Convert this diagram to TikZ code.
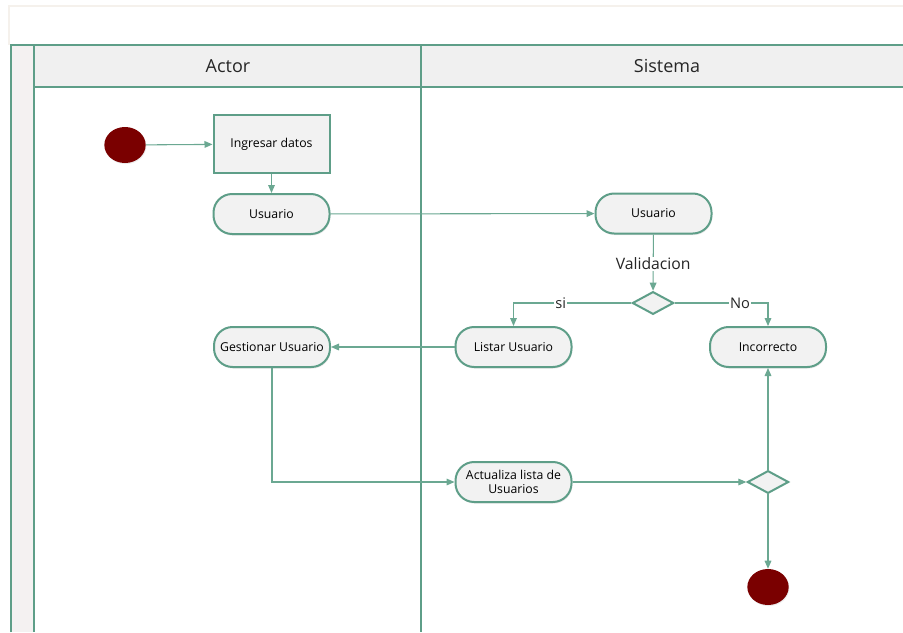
\documentclass[tikz,border=0pt]{standalone}
\usepackage{fontspec}
\setmainfont{Open Sans}
\usetikzlibrary{arrows.meta,shapes.geometric,shadows}
\definecolor{lanegreen}{HTML}{5E9E88}
\definecolor{linegreen}{HTML}{6BA892}
\definecolor{nodefill}{HTML}{F2F2F2}
\definecolor{headfill}{HTML}{F0F0F0}
\definecolor{stripfill}{HTML}{F4F1F1}
\definecolor{dotred}{HTML}{7A0000}
\definecolor{faint}{HTML}{F5F1EC}
\tikzset{
  lane/.style={draw=lanegreen, line width=2.2pt},
  pill/.style={draw=lanegreen, line width=1.5pt, fill=nodefill, rectangle, rounded corners=14pt,
    minimum width=87pt, minimum height=30pt, inner sep=1pt, align=center,
    font=\fontsize{9.2}{10.5}\selectfont,
    drop shadow={shadow xshift=0.6pt, shadow yshift=-1.2pt, opacity=0.18}},
  actbox/.style={draw=lanegreen, line width=1.5pt, fill=nodefill, rectangle,
    minimum width=87pt, minimum height=43pt, inner sep=1pt, align=center,
    font=\fontsize{9.2}{10.5}\selectfont},
  dec/.style={draw=lanegreen, line width=1.5pt, fill=nodefill, diamond, inner sep=0pt,
    minimum width=31pt, minimum height=17pt},
  dot/.style={ellipse, fill=dotred, minimum width=31pt, minimum height=27pt, inner sep=0pt,
    drop shadow={shadow xshift=0.5pt, shadow yshift=-0.8pt, opacity=0.15}},
  flow/.style={draw=linegreen, line width=0.8pt, -{Triangle[length=6pt,width=5pt]}},
  flowlabel/.style={fill=white, inner sep=0.8pt, text=black!85},
  head/.style={font=\fontsize{13.5}{15}\selectfont, text=black!85}
}
\begin{document}
\begin{tikzpicture}[x=0.75pt,y=-0.75pt]
\useasboundingbox (0,0) rectangle (903,632);
\fill[white] (0,0) rectangle (903,632);
% faint outer frame
\draw[faint, line width=1pt] (8,6) -- (903,6);
\draw[faint, line width=1pt] (9,6) -- (9,45);
% pool strip and header
\fill[stripfill] (11,45) rectangle (34,632);
\fill[headfill] (34,45) rectangle (903,87);
\draw[lane] (11,632) -- (11,45) -- (903,45);
\draw[lane] (34,45) -- (34,632);
\draw[lane] (34,87) -- (903,87);
\draw[lane] (421,45) -- (421,632);
\node[head] (hactor) at (228,66) {Actor};
\node[head] (hsis) at (667,66) {Sistema};
% nodes
\node[dot] (start) at (125,145) {};
\node[actbox] (ingresar) at (271.5,144) {Ingresar datos};
\node[pill] (usrA) at (271.5,214) {Usuario};
\node[pill] (usrS) at (653.5,213.5) {Usuario};
\node[dec] (d1) at (653,303) {};
\node[pill] (listar) at (513.5,347) {Listar Usuario};
\node[pill] (incorrecto) at (768,347) {Incorrecto};
\node[pill] (gestionar) at (272,347) {Gestionar Usuario};
\node[pill] (actualiza) at (513.5,482) {Actualiza lista de\\Usuarios};
\node[dec] (d2) at (768,482) {};
\node[dot] (fin) at (768,587) {};
% connectors
\draw[flow] (start) -- (ingresar);
\draw[flow] (ingresar) -- (usrA);
\draw[flow] (usrA) -- (usrS);
\draw[flow] (usrS) -- node[flowlabel, font=\fontsize{11.8}{13}\selectfont, pos=0.52] (lval) {Validacion} (d1);
\draw[flow] (d1.west) -- node[flowlabel, font=\fontsize{11}{12}\selectfont, pos=0.6] (lsi) {si} (listar.north |- d1.west) -- (listar.north);
\draw[flow] (d1.east) -- node[flowlabel, font=\fontsize{11}{12}\selectfont, pos=0.7] (lno) {No} (incorrecto.north |- d1.east) -- (incorrecto.north);
\draw[flow] (listar) -- (gestionar);
\draw[flow] (gestionar.south) -- (gestionar.south |- actualiza.west) -- (actualiza.west);
\draw[flow] (actualiza) -- (d2);
\draw[flow] (d2) -- (incorrecto);
\draw[flow] (d2) -- (fin);
\end{tikzpicture}
\end{document}
